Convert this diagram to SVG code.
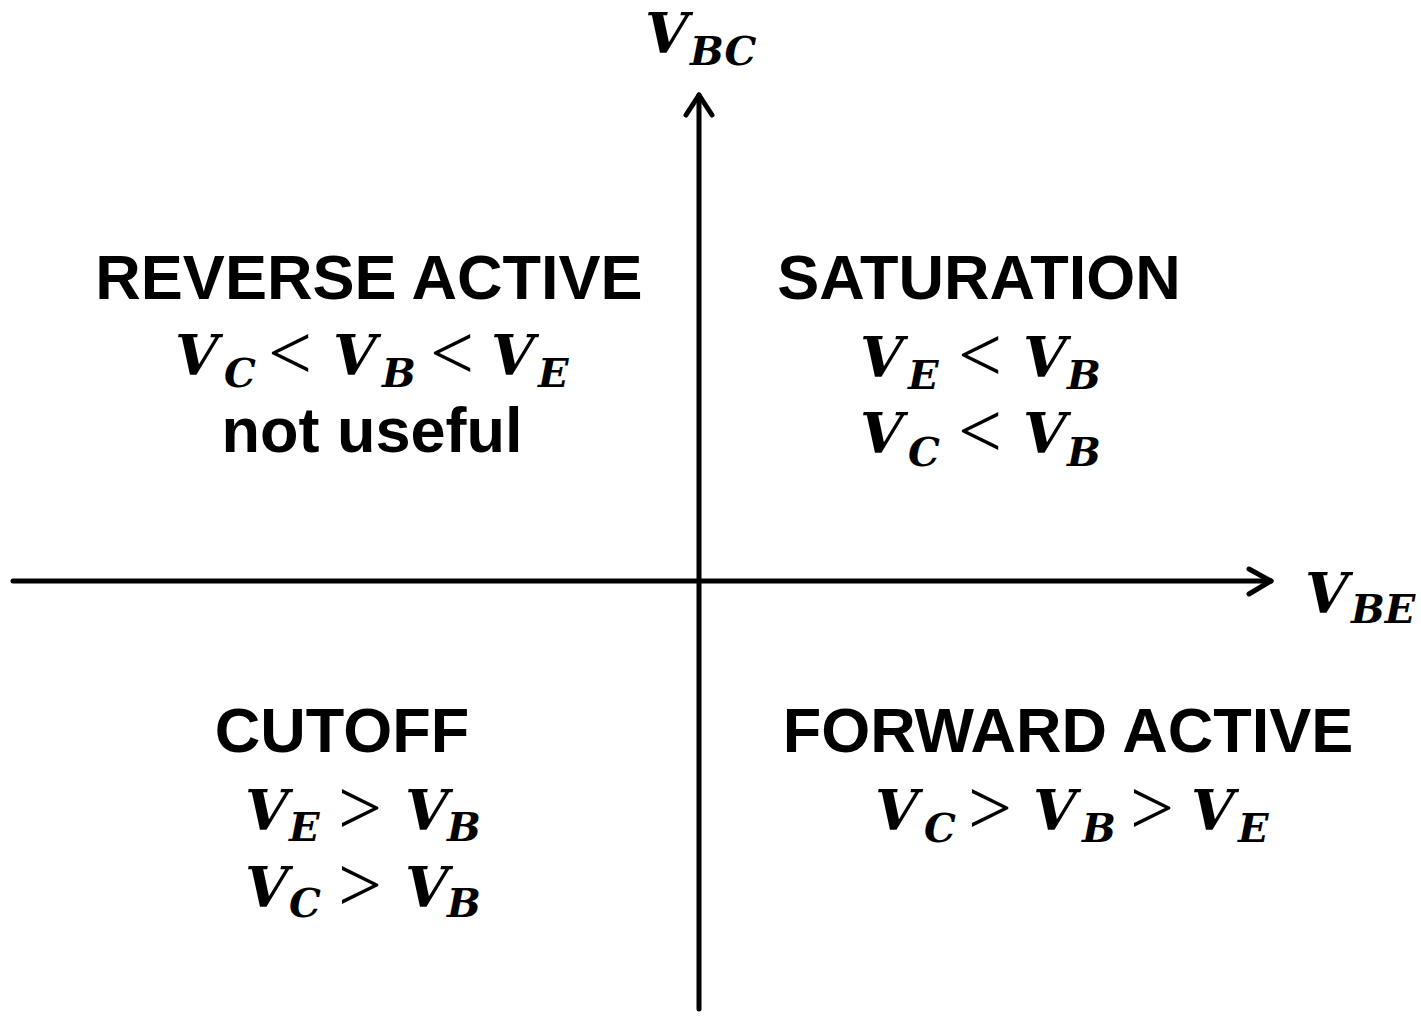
<svg xmlns="http://www.w3.org/2000/svg" width="1421" height="1028" viewBox="0 0 1421 1028">
<style>
.h{font-family:"Liberation Sans",Arial,sans-serif;font-weight:bold;font-size:63px;fill:#000;text-anchor:middle}
.m{font-family:"DejaVu Serif","Liberation Serif",serif;font-weight:bold;font-style:italic;font-size:56px;fill:#000}
.s{font-size:40px}
.r{font-family:"Liberation Serif","Times New Roman",serif;font-weight:normal;font-style:normal;font-size:78px}
.ax{stroke:#000;stroke-width:5;fill:none;stroke-linecap:round;stroke-linejoin:round}
</style>
<rect width="1421" height="1028" fill="#fff"/>
<g id="axes">
<line class="ax" x1="699" y1="1009" x2="699" y2="95"/>
<polyline class="ax" points="686,115 699,95 712,115"/>
<line class="ax" x1="13" y1="581" x2="1271" y2="581"/>
<polyline class="ax" points="1249,569 1271,581 1249,594"/>
</g>
<g id="axis-labels">
<text class="m" x="645" y="53">V<tspan class="s" x="690" y="65">BC</tspan></text>
<text class="m" x="1305" y="613">V<tspan class="s" x="1351" y="623">BE</tspan></text>
</g>
<g id="reverse-active">
<text class="h" x="369" y="299">REVERSE ACTIVE</text>
<text class="m" y="375"><tspan x="175">V</tspan><tspan class="s" x="224" y="387">C</tspan><tspan class="r" x="268" y="379">&lt;</tspan><tspan x="333" y="375">V</tspan><tspan class="s" x="382" y="387">B</tspan><tspan class="r" x="430" y="379">&lt;</tspan><tspan x="491" y="375">V</tspan><tspan class="s" x="538" y="387">E</tspan></text>
<text class="h" x="372" y="452">not useful</text>
</g>
<g id="saturation">
<text class="h" x="979" y="299">SATURATION</text>
<text class="m" y="377"><tspan x="860">V</tspan><tspan class="s" x="908" y="389">E</tspan><tspan class="r" x="958" y="381">&lt;</tspan><tspan x="1023" y="377">V</tspan><tspan class="s" x="1067" y="389">B</tspan></text>
<text class="m" y="453"><tspan x="860">V</tspan><tspan class="s" x="908" y="466">C</tspan><tspan class="r" x="958" y="457">&lt;</tspan><tspan x="1023" y="453">V</tspan><tspan class="s" x="1067" y="466">B</tspan></text>
</g>
<g id="cutoff">
<text class="h" x="342" y="752">CUTOFF</text>
<text class="m" y="830"><tspan x="245">V</tspan><tspan class="s" x="289" y="841">E</tspan><tspan class="r" x="338" y="834">&gt;</tspan><tspan x="405" y="830">V</tspan><tspan class="s" x="447" y="841">B</tspan></text>
<text class="m" y="907"><tspan x="245">V</tspan><tspan class="s" x="289" y="917">C</tspan><tspan class="r" x="338" y="911">&gt;</tspan><tspan x="405" y="907">V</tspan><tspan class="s" x="447" y="917">B</tspan></text>
</g>
<g id="forward-active">
<text class="h" x="1068" y="752">FORWARD ACTIVE</text>
<text class="m" y="830"><tspan x="875">V</tspan><tspan class="s" x="924" y="842">C</tspan><tspan class="r" x="968" y="834">&gt;</tspan><tspan x="1033" y="830">V</tspan><tspan class="s" x="1082" y="842">B</tspan><tspan class="r" x="1130" y="834">&gt;</tspan><tspan x="1191" y="830">V</tspan><tspan class="s" x="1238" y="842">E</tspan></text>
</g>
</svg>
